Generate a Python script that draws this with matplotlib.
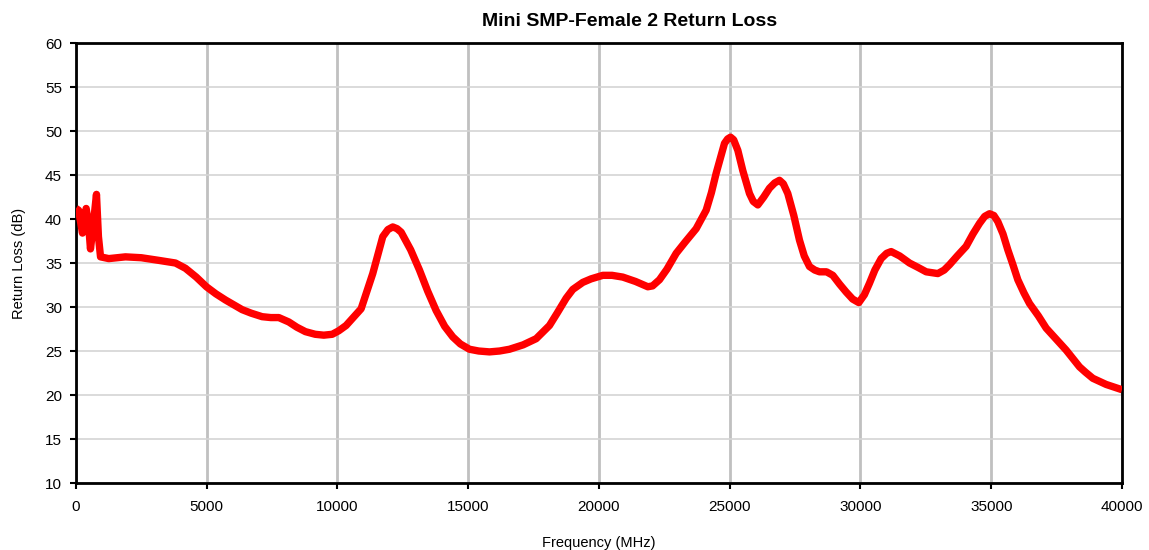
import matplotlib
matplotlib.use("Agg")
import matplotlib.pyplot as plt

# valores
freq_mhz = [0, 100, 250, 390, 480, 555, 650, 785, 860, 940, 1255, 1893, 2500,
            3167, 3805, 4187, 4600, 4990, 5350, 5717, 6355, 6700, 7120, 7450,
            7757, 8140, 8450, 8776, 9150, 9477, 9800, 10050, 10330, 10905,
            11350, 11733, 11930, 12115, 12280, 12436, 12800, 13136, 13450,
            13773, 14100, 14410, 14700, 15048, 15400, 15813, 16200, 16577,
            17100, 17598, 18107, 18400, 18745, 19000, 19382, 19700, 20147,
            20500, 20911, 21400, 21867, 22050, 22314, 22600, 22952, 23300,
            23716, 23900, 24099, 24300, 24481, 24650, 24800, 24920, 25030,
            25150, 25310, 25500, 25755, 25900, 26074, 26300, 26520, 26720,
            26902, 27050, 27220, 27450, 27667, 27850, 28050, 28250, 28432,
            28700, 28942, 29200, 29452, 29700, 29935, 30150, 30344, 30550,
            30790, 31000, 31173, 31500, 31874, 32200, 32512, 32957, 33200,
            33403, 33700, 34041, 34300, 34551, 34750, 34933, 35100, 35252,
            35450, 35634, 35830, 36016, 36250, 36463, 36800, 37100, 37500,
            37865, 38375, 38600, 38884, 39100, 39394, 39700, 40000]
return_loss_db = [41.2, 41.0, 38.4, 41.2, 39.5, 36.6, 39.0, 42.8, 38.0, 35.7,
                  35.5, 35.7, 35.6, 35.3, 35.0, 34.4, 33.4, 32.3, 31.5, 30.8,
                  29.7, 29.3, 28.9, 28.8, 28.8, 28.3, 27.7, 27.2, 26.9, 26.8,
                  26.9, 27.3, 27.9, 29.8, 33.8, 38.0, 38.8, 39.1, 38.9, 38.5,
                  36.5, 34.2, 31.8, 29.6, 27.8, 26.6, 25.8, 25.2, 25.0, 24.9,
                  25.0, 25.2, 25.7, 26.4, 27.9, 29.3, 31.0, 32.0, 32.8, 33.2,
                  33.6, 33.6, 33.4, 32.9, 32.3, 32.4, 33.1, 34.3, 36.1, 37.4,
                  38.9, 39.9, 41.0, 43.0, 45.2, 47.0, 48.6, 49.1, 49.3, 49.0,
                  47.8, 45.5, 42.9, 42.0, 41.6, 42.5, 43.5, 44.1, 44.4, 44.0,
                  42.9, 40.4, 37.6, 35.8, 34.6, 34.2, 34.0, 34.0, 33.6, 32.6,
                  31.7, 30.9, 30.5, 31.4, 32.7, 34.2, 35.5, 36.1, 36.3, 35.8,
                  35.0, 34.5, 34.0, 33.8, 34.2, 34.8, 35.8, 36.9, 38.3, 39.5,
                  40.3, 40.6, 40.4, 39.7, 38.3, 36.5, 34.8, 33.1, 31.6, 30.4,
                  29.0, 27.6, 26.3, 25.1, 23.2, 22.6, 21.9, 21.6, 21.2, 20.9,
                  20.6]

x_ticks = list(range(0, 40001, 5000))
y_ticks = list(range(10, 61, 5))

plt.rcParams['font.family'] = ['Liberation Sans', 'DejaVu Sans']

fig = plt.figure(figsize=(11.49, 5.5), dpi=100)
ax = fig.add_axes([0.0661, 0.1218, 0.9104, 0.80])

ax.plot(freq_mhz, return_loss_db, color="#ff0000", lw=5.3, solid_capstyle="butt",
        solid_joinstyle="round", zorder=3)

ax.set_xlim(0, 40000)
ax.set_ylim(10, 60)
ax.set_xticks(x_ticks)
ax.set_yticks(y_ticks)
ax.tick_params(axis="both", direction="out", length=4, width=1.5, labelsize=11,
               colors="black")
ax.tick_params(axis="y", pad=6)
ax.tick_params(axis="x", pad=8)

# grade: verticais mais escuras, horizontais mais claras
ax.yaxis.grid(True, color="#d4d4d4", lw=1.2)
ax.xaxis.grid(True, color="#c0c0c0", lw=2)
ax.set_axisbelow(True)
for s in ax.spines.values():
    s.set_linewidth(2)
    s.set_color("black")

ax.set_xlabel("Frequency (MHz)", fontsize=10.5, labelpad=16)
ax.set_ylabel("Return Loss (dB)", fontsize=10.5, labelpad=14)
fig.text(629.7 / 1149, 1 - 22 / 550, "Mini SMP-Female 2 Return Loss",
         ha="center", va="center", fontsize=14, fontweight="bold")

fig.savefig("out.png", dpi=100)
